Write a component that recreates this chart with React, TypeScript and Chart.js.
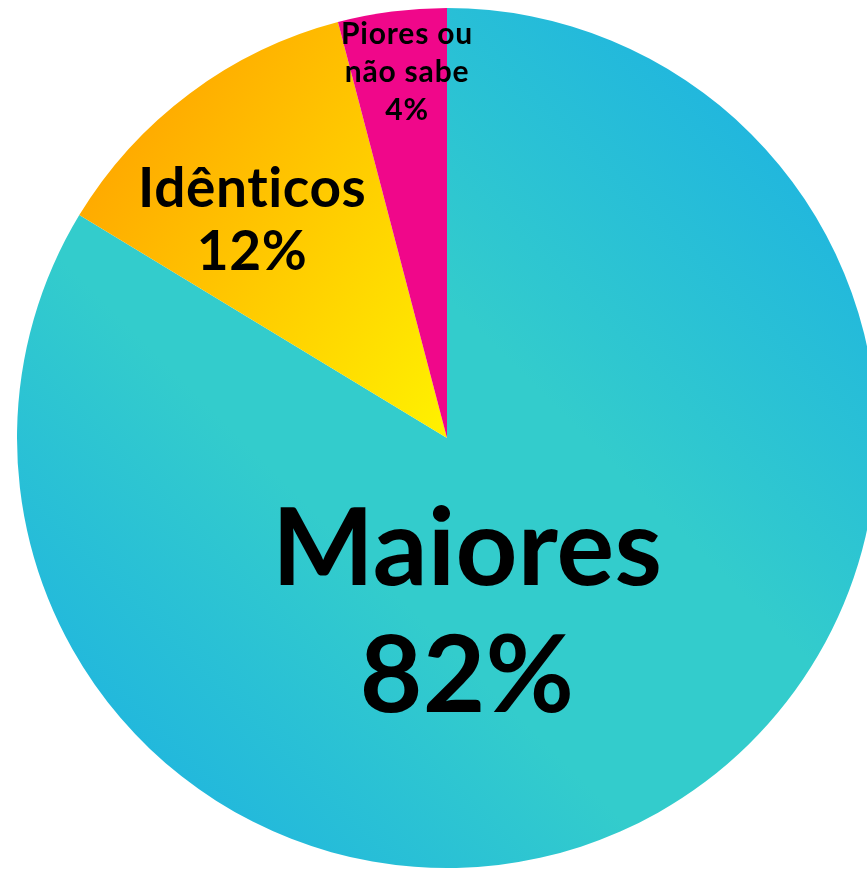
import React, { useEffect, useRef } from "react";
import { Chart, registerables } from "chart.js";

Chart.register(...registerables);

const CATEGORIES = ["Maiores", "Idênticos", "Piores ou não sabe"];
const VALUES = [82, 12, 4];
const LABEL_LINES = [["Maiores", "82%"], ["Idênticos", "12%"], ["Piores ou", "não sabe", "4%"]];

// label layout (fraction of radius from pie centre to first baseline), font size, line step
const LABEL_ANCHOR = [[0.0465, 0.342], [-0.453, -0.537], [-0.093, -0.916]];
const LABEL_FONT = [108, 55, 30];
const LABEL_SPACING = ["0.2px", "0.6px", "0.8px"];
const LABEL_STEP = [127, 63, 38];

const FONT_FAMILY = "Lato, 'Open Sans', sans-serif";

function sliceColor(ctx: any) {
  const chart = ctx.chart;
  const area = chart.chartArea;
  const c = chart.ctx;
  if (!area) return "#33cccc";
  const i = ctx.dataIndex;
  if (i === 0) {
    const g = c.createLinearGradient(area.right, area.top, area.left, area.bottom);
    g.addColorStop(0, "#18ace6");
    g.addColorStop(0.42, "#33cccc");
    g.addColorStop(0.62, "#33cccc");
    g.addColorStop(1, "#18ace6");
    return g;
  }
  if (i === 1) {
    const cx = (area.left + area.right) / 2;
    const cy = (area.top + area.bottom) / 2;
    const r = Math.min(area.width, area.height) / 2;
    const g = c.createLinearGradient(cx - r * 0.85, cy - r * 0.6, cx, cy);
    g.addColorStop(0, "#ffa800");
    g.addColorStop(1, "#fff200");
    return g;
  }
  return "#f0078a";
}

const labelPlugin = {
  id: "sliceLabels",
  afterDatasetsDraw(chart: any) {
    const meta = chart.getDatasetMeta(0);
    const c = chart.ctx;
    c.save();
    c.fillStyle = "#000000";
    c.textAlign = "center";
    c.textBaseline = "alphabetic";
    meta.data.forEach((arc: any, i: number) => {
      const r = arc.outerRadius;
      const x = arc.x + LABEL_ANCHOR[i][0] * r;
      const y0 = arc.y + LABEL_ANCHOR[i][1] * r;
      c.font = `bold ${LABEL_FONT[i]}px ${FONT_FAMILY}`;
      try { (c as any).letterSpacing = LABEL_SPACING[i]; } catch (e) {}
      LABEL_LINES[i].forEach((line, k) => {
        c.fillText(line, x, y0 + k * LABEL_STEP[i]);
      });
    });
    c.restore();
  },
};

export default function App() {
  const ref = useRef<HTMLCanvasElement | null>(null);
  useEffect(() => {
    document.body.style.margin = "0";
    if (!ref.current) return;
    const chart = new Chart(ref.current, {
      type: "pie",
      data: {
        labels: CATEGORIES,
        datasets: [
          {
            data: VALUES,
            backgroundColor: sliceColor as any,
            borderWidth: 0,
            hoverOffset: 0,
          },
        ],
      },
      options: {
        animation: false,
        responsive: true,
        maintainAspectRatio: false,
        layout: { padding: { left: 17, right: 17, top: 8, bottom: 3 } },
        plugins: {
          legend: { display: false },
          tooltip: { enabled: false },
        },
        events: [],
      },
      plugins: [labelPlugin],
    });
    return () => chart.destroy();
  }, []);
  return (
    <div style={{ position: "fixed", left: 0, top: 0, width: 867, height: 871, overflow: "hidden", background: "#fff" }}>
      <div style={{ position: "absolute", left: 0, top: 0, width: 894, height: 871 }}>
        <canvas ref={ref} />
      </div>
    </div>
  );
}
